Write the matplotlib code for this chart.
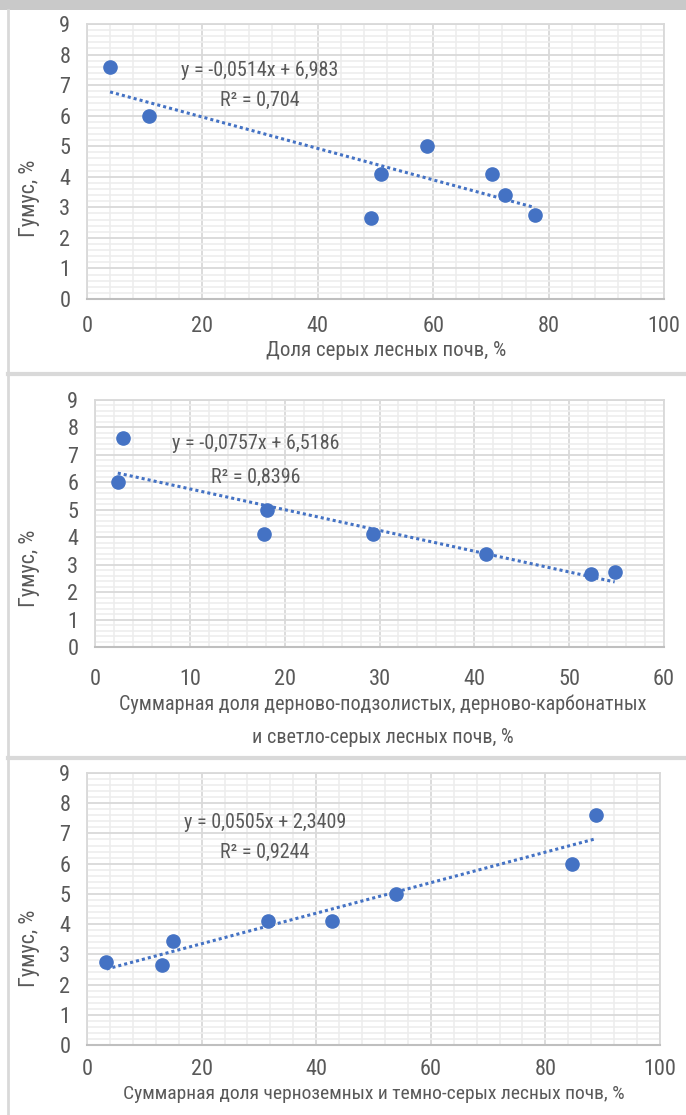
import matplotlib
matplotlib.use("Agg")
import matplotlib.pyplot as plt
from matplotlib import font_manager
from matplotlib.ticker import MultipleLocator
from matplotlib.lines import Line2D
from matplotlib.patches import Rectangle
import numpy as np

# ---------------- data ----------------
humus1 = [7.6, 6.0, 2.65, 4.1, 5.0, 4.1, 3.4, 2.75]
grey_forest = [4.0, 10.7, 49.3, 51.0, 58.9, 70.2, 72.4, 77.6]
trend1 = (-0.0514, 6.983)
eq1 = "y = -0,0514x + 6,983"
r1 = "R² = 0,704"
xlabel1 = "Доля серых лесных почв, %"

humus2 = [7.6, 6.0, 4.1, 5.0, 4.1, 3.4, 2.65, 2.75]
sod_light = [2.9, 2.4, 17.8, 18.1, 29.3, 41.2, 52.3, 54.8]
trend2 = (-0.0757, 6.5186)
eq2 = "y = -0,0757x + 6,5186"
r2 = "R² = 0,8396"
xlabel2 = "Суммарная доля дерново-подзолистых, дерново-карбонатных\nи светло-серых лесных почв, %"

humus3 = [2.75, 2.65, 3.45, 4.1, 4.1, 5.0, 6.0, 7.6]
chern_dark = [3.4, 13.1, 15.0, 31.6, 42.8, 53.9, 84.6, 88.8]
trend3 = (0.0505, 2.3409)
eq3 = "y = 0,0505x + 2,3409"
r3 = "R² = 0,9244"
xlabel3 = "Суммарная доля черноземных и темно-серых лесных почв, %"

ylabel = "Гумус, %"

# ---------------- fonts ----------------
avail = {f.name for f in font_manager.fontManager.ttflist}
fam = None
for cand in ["Liberation Sans Narrow", "Roboto Condensed", "Open Sans Condensed", "Noto Sans", "Liberation Sans"]:
    if cand in avail:
        fam = cand
        break
plt.rcParams['font.family'] = [fam, 'DejaVu Sans']

W, H = 686, 1115
fig = plt.figure(figsize=(W / 100, H / 100), dpi=100)
fig.patch.set_facecolor("white")

TXT = "#595959"
BLUE = "#4472C4"
MAJ = "#d9d9d9"
MIN = "#ededed"


def px_rect(l, t, r, b):
    return [l / W, 1 - b / H, (r - l) / W, (b - t) / H]


# frame decorations
fig.add_artist(Rectangle((0, 1 - 10 / H), 1, 10 / H, transform=fig.transFigure,
                         facecolor="#c9c9c9", edgecolor="none"))
fig.add_artist(Line2D([8 / W, 8 / W], [0, 1 - 10 / H], transform=fig.transFigure,
                      color="#d9d9d9", lw=2))
for yy in (373.5, 757.5):
    fig.add_artist(Line2D([8 / W, 1], [1 - yy / H, 1 - yy / H], transform=fig.transFigure,
                          color="#d9d9d9", lw=3))

panels = [
    dict(x=grey_forest, y=humus1, trend=trend1, eq=eq1, r=r1, xl=xlabel1,
         rect=(87, 24, 664, 299), xmax=100, xmaj=20, xmin=4,
         eqpos=(260, 71), rpos=(260, 100), ylpos=(30, 198), xlpos=(386, 350),
         tickpad=12, xlfs=15),
    dict(x=sod_light, y=humus2, trend=trend2, eq=eq2, r=r2, xl=xlabel2,
         rect=(95, 400, 664, 647), xmax=60, xmaj=10, xmin=2,
         eqpos=(256, 443), rpos=(256, 477), ylpos=(30, 568), xlpos=(383, 721),
         tickpad=16, xlfs=14.5),
    dict(x=chern_dark, y=humus3, trend=trend3, eq=eq3, r=r3, xl=xlabel3,
         rect=(87, 773, 660, 1045), xmax=100, xmaj=20, xmin=4,
         eqpos=(265, 823), rpos=(265, 852), ylpos=(30, 948), xlpos=(374, 1094),
         tickpad=10, xlfs=14),
]

for p in panels:
    ax = fig.add_axes(px_rect(*p["rect"]))
    ax.set_xlim(0, p["xmax"])
    ax.set_ylim(0, 9)
    ax.xaxis.set_major_locator(MultipleLocator(p["xmaj"]))
    ax.xaxis.set_minor_locator(MultipleLocator(p["xmin"]))
    ax.yaxis.set_major_locator(MultipleLocator(1))
    ax.yaxis.set_minor_locator(MultipleLocator(0.2))
    ax.grid(which="minor", color=MIN, lw=1.2, zorder=0)
    ax.grid(which="major", color=MAJ, lw=1.3, zorder=0)
    ax.set_axisbelow(True)
    for s in ("top", "right", "left"):
        ax.spines[s].set_color(MAJ)
        ax.spines[s].set_linewidth(1.3)
    ax.spines["bottom"].set_color("#bfbfbf")
    ax.spines["bottom"].set_linewidth(1.5)
    ax.tick_params(which="both", length=0, labelsize=16, labelcolor=TXT)
    ax.tick_params(axis="x", pad=p["tickpad"])
    ax.tick_params(axis="y", pad=12)

    xs = np.array(p["x"])
    ys = np.array(p["y"])
    a, b = p["trend"]
    xt = np.array([xs.min(), xs.max()])
    ax.plot(xt, a * xt + b, color=BLUE, lw=2.2, ls=(0, (1, 1)), zorder=2)
    ax.plot(xs, ys, "o", color=BLUE, ms=9.5, zorder=3, clip_on=False)

    fig.text(p["eqpos"][0] / W, 1 - p["eqpos"][1] / H, p["eq"], ha="center", va="center",
             fontsize=14.5, color=TXT)
    fig.text(p["rpos"][0] / W, 1 - p["rpos"][1] / H, p["r"], ha="center", va="center",
             fontsize=14.5, color=TXT)
    fig.text(p["ylpos"][0] / W, 1 - p["ylpos"][1] / H, ylabel, ha="center", va="center",
             rotation=90, fontsize=16, color=TXT)
    fig.text(p["xlpos"][0] / W, 1 - p["xlpos"][1] / H, p["xl"], ha="center", va="center",
             fontsize=p["xlfs"], color=TXT, linespacing=1.9)

fig.savefig("out.png", dpi=100, facecolor="white")
